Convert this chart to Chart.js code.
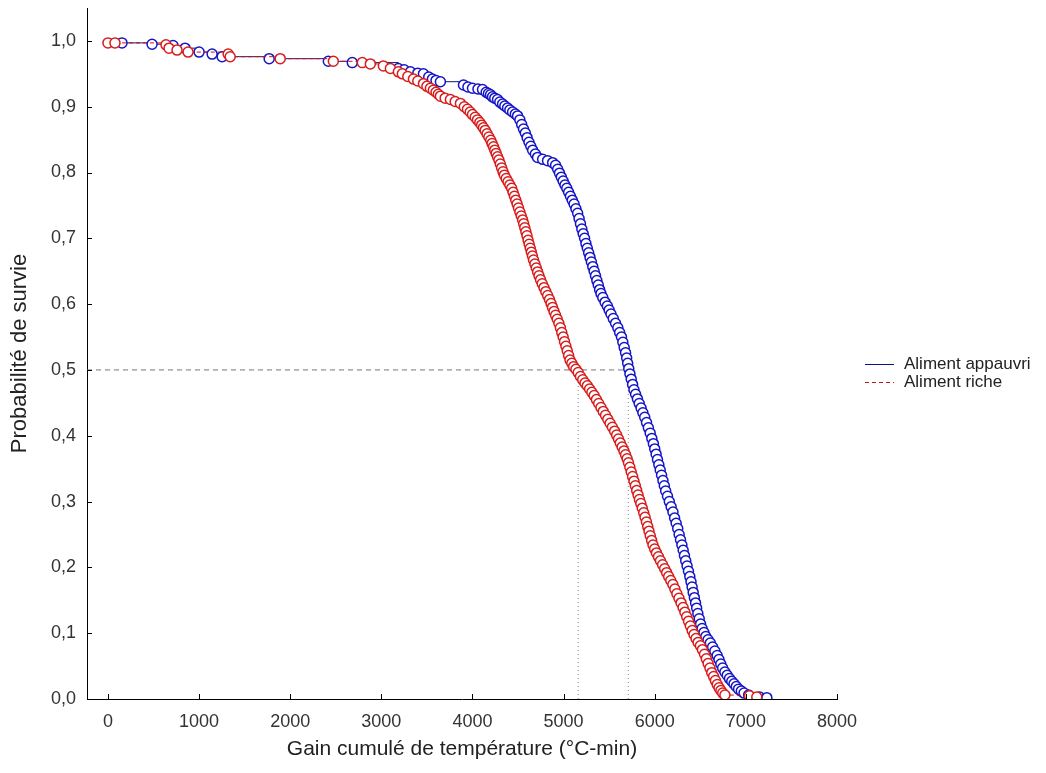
<!DOCTYPE html>
<html>
<head>
<meta charset="utf-8">
<script src="https://cdn.jsdelivr.net/npm/chart.js@4"></script>
<style>
  body { margin: 0; background: #fff; }
</style>
</head>
<body>
<canvas id="canvas" width="1046" height="773"></canvas>
<script>
// DATA
var seriesNames = ['Aliment appauvri', 'Aliment riche'];

// Aliment appauvri (bleu)
var tempAppauvri = [154, 484, 714, 846, 1000, 1143, 1253, 1769, 2418, 2681,
  3187, 3250, 3319, 3400, 3462, 3520, 3560, 3600, 3648, 3901,
  3950, 4000, 4060, 4110, 4150, 4175, 4198, 4220, 4245, 4275,
  4300, 4330, 4355, 4385, 4410, 4440, 4470, 4495, 4520, 4540,
  4560, 4580, 4600, 4620, 4640, 4660, 4690, 4714, 4770, 4824,
  4880, 4912, 4935, 4955, 4975, 4995, 5015, 5035, 5055, 5075,
  5095, 5115, 5135, 5154, 5170, 5185, 5200, 5215, 5230, 5245,
  5260, 5275, 5290, 5305, 5320, 5335, 5350, 5365, 5380, 5395,
  5410, 5430, 5455, 5480, 5500, 5520, 5545, 5570, 5595, 5615,
  5635, 5650, 5665, 5680, 5692, 5703, 5715, 5728, 5742, 5757,
  5772, 5790, 5810, 5830, 5850, 5870, 5890, 5910, 5930, 5950,
  5968, 5985, 6000, 6015, 6030, 6045, 6060, 6075, 6090, 6105,
  6120, 6140, 6160, 6180, 6200, 6218, 6235, 6252, 6268, 6283,
  6298, 6312, 6326, 6340, 6355, 6370, 6385, 6398, 6410, 6422,
  6435, 6448, 6460, 6473, 6488, 6503, 6520, 6540, 6560, 6585,
  6610, 6635, 6660, 6685, 6705, 6725, 6745, 6770, 6795, 6820,
  6845, 6870, 6895, 6920, 6950, 6980, 7030, 7150, 7230];
var survAppauvri = [0.997, 0.995, 0.993, 0.989, 0.983, 0.980, 0.976, 0.973, 0.969, 0.967,
  0.958, 0.956, 0.953, 0.951, 0.950, 0.945, 0.942, 0.940, 0.938, 0.933,
  0.930, 0.928, 0.927, 0.926, 0.922, 0.920, 0.918, 0.915, 0.913, 0.911,
  0.907, 0.904, 0.901, 0.898, 0.895, 0.892, 0.889, 0.886, 0.880, 0.873,
  0.866, 0.860, 0.853, 0.846, 0.840, 0.834, 0.828, 0.823, 0.820, 0.818,
  0.815, 0.811, 0.805, 0.799, 0.793, 0.787, 0.781, 0.776, 0.770, 0.764,
  0.758, 0.752, 0.745, 0.738, 0.730, 0.722, 0.714, 0.707, 0.700, 0.692,
  0.685, 0.678, 0.671, 0.664, 0.657, 0.650, 0.643, 0.636, 0.629, 0.622,
  0.616, 0.610, 0.603, 0.597, 0.591, 0.585, 0.578, 0.571, 0.564, 0.557,
  0.550, 0.542, 0.534, 0.526, 0.518, 0.510, 0.502, 0.494, 0.486, 0.478,
  0.470, 0.463, 0.456, 0.449, 0.442, 0.435, 0.428, 0.420, 0.412, 0.404,
  0.396, 0.388, 0.380, 0.372, 0.364, 0.356, 0.348, 0.340, 0.332, 0.324,
  0.316, 0.308, 0.300, 0.292, 0.284, 0.275, 0.267, 0.259, 0.250, 0.242,
  0.234, 0.226, 0.218, 0.210, 0.202, 0.194, 0.186, 0.178, 0.170, 0.162,
  0.154, 0.146, 0.138, 0.130, 0.122, 0.114, 0.107, 0.101, 0.095, 0.090,
  0.085, 0.079, 0.073, 0.066, 0.060, 0.053, 0.047, 0.041, 0.036, 0.031,
  0.027, 0.023, 0.019, 0.015, 0.012, 0.009, 0.006, 0.003, 0.002];

// Aliment riche (rouge)
var tempRiche = [0, 77, 637, 670, 758, 879, 1319, 1341, 1890, 2473,
  2791, 2879, 3022, 3099, 3187, 3230, 3290, 3352, 3400, 3462,
  3500, 3538, 3570, 3600, 3625, 3648, 3700, 3758, 3810, 3868,
  3910, 3945, 3975, 4000, 4030, 4055, 4080, 4100, 4120, 4140,
  4160, 4180, 4200, 4215, 4231, 4245, 4260, 4275, 4290, 4305,
  4320, 4335, 4350, 4370, 4390, 4410, 4430, 4445, 4460, 4475,
  4490, 4505, 4520, 4535, 4550, 4562, 4574, 4586, 4598, 4610,
  4622, 4634, 4646, 4658, 4670, 4685, 4700, 4715, 4730, 4747,
  4765, 4785, 4805, 4825, 4845, 4862, 4878, 4895, 4912, 4930,
  4948, 4965, 4980, 4995, 5010, 5025, 5040, 5055, 5070, 5090,
  5110, 5135, 5160, 5185, 5210, 5235, 5260, 5285, 5310, 5335,
  5360, 5385, 5410, 5435, 5460, 5485, 5510, 5535, 5560, 5582,
  5602, 5622, 5642, 5662, 5680, 5697, 5712, 5727, 5742, 5757,
  5772, 5787, 5802, 5817, 5832, 5847, 5863, 5879, 5894, 5909,
  5923, 5937, 5951, 5966, 5981, 5999, 6019, 6041, 6063, 6086,
  6109, 6131, 6153, 6176, 6199, 6221, 6243, 6266, 6289, 6311,
  6331, 6351, 6371, 6391, 6411, 6431, 6453, 6476, 6501, 6523,
  6546, 6566, 6586, 6606, 6626, 6646, 6666, 6686, 6706, 6726,
  6746, 6770, 7040, 7120];
var survRiche = [0.997, 0.997, 0.994, 0.989, 0.986, 0.983, 0.980, 0.976, 0.973, 0.969,
  0.967, 0.965, 0.962, 0.958, 0.953, 0.950, 0.946, 0.942, 0.939, 0.935,
  0.931, 0.928, 0.925, 0.922, 0.919, 0.916, 0.913, 0.911, 0.908, 0.905,
  0.900, 0.896, 0.892, 0.888, 0.884, 0.880, 0.876, 0.872, 0.868, 0.864,
  0.859, 0.854, 0.849, 0.844, 0.839, 0.834, 0.829, 0.824, 0.819, 0.813,
  0.807, 0.801, 0.796, 0.791, 0.786, 0.781, 0.776, 0.770, 0.764, 0.758,
  0.752, 0.746, 0.740, 0.734, 0.728, 0.722, 0.716, 0.710, 0.704, 0.697,
  0.691, 0.685, 0.679, 0.673, 0.667, 0.661, 0.655, 0.649, 0.643, 0.637,
  0.631, 0.625, 0.619, 0.613, 0.607, 0.601, 0.595, 0.589, 0.583, 0.577,
  0.571, 0.564, 0.557, 0.550, 0.543, 0.536, 0.529, 0.522, 0.515, 0.510,
  0.505, 0.501, 0.496, 0.490, 0.485, 0.480, 0.476, 0.471, 0.466, 0.461,
  0.455, 0.449, 0.443, 0.437, 0.431, 0.425, 0.419, 0.413, 0.407, 0.401,
  0.395, 0.389, 0.383, 0.377, 0.371, 0.365, 0.359, 0.352, 0.345, 0.338,
  0.331, 0.324, 0.317, 0.310, 0.303, 0.297, 0.290, 0.283, 0.276, 0.269,
  0.262, 0.255, 0.248, 0.241, 0.234, 0.228, 0.222, 0.216, 0.210, 0.204,
  0.198, 0.192, 0.186, 0.180, 0.174, 0.167, 0.160, 0.153, 0.146, 0.139,
  0.132, 0.125, 0.118, 0.111, 0.104, 0.098, 0.092, 0.086, 0.081, 0.075,
  0.068, 0.061, 0.054, 0.047, 0.040, 0.034, 0.028, 0.022, 0.017, 0.013,
  0.009, 0.006, 0.005, 0.003];

// medianes (survie = 0,5)
var medianRiche = 5160;
var medianAppauvri = 5710;
var survMediane = 0.5;

var xTickValues = [0, 1000, 2000, 3000, 4000, 5000, 6000, 7000, 8000];
var yTickValues = [0, 0.1, 0.2, 0.3, 0.4, 0.5, 0.6, 0.7, 0.8, 0.9, 1.0];
var xMin = -230, xMax = 8000;
var yMin = 0, yMax = 1.05;

function toPoints(xs, ys) {
  var pts = [];
  for (var i = 0; i < xs.length; i++) pts.push({x: xs[i], y: ys[i]});
  return pts;
}

var blue = '#1414c8', blueLine = '#10107a';
var red = '#d81c1c', redLine = '#c81010';
var fontFamily = '"Liberation Sans", Arial, sans-serif';

function noPad(s) {
  s.paddingTop = 0; s.paddingBottom = 0; s.paddingLeft = 0; s.paddingRight = 0;
}

// inward ticks + legend
var extras = {
  id: 'extras',
  afterDraw: function(chart) {
    var ctx = chart.ctx;
    var xs = chart.scales.x, ys = chart.scales.y;
    var area = chart.chartArea;
    ctx.save();
    ctx.strokeStyle = '#000';
    ctx.lineWidth = 1;
    xs.ticks.forEach(function(t) {
      var px = Math.round(xs.getPixelForValue(t.value)) + 0.5;
      ctx.beginPath();
      ctx.moveTo(px, area.bottom);
      ctx.lineTo(px, area.bottom - 5);
      ctx.stroke();
    });
    ys.ticks.forEach(function(t) {
      var py = Math.round(ys.getPixelForValue(t.value)) + 0.5;
      ctx.beginPath();
      ctx.moveTo(area.left, py);
      ctx.lineTo(area.left + 5, py);
      ctx.stroke();
    });
    // legend
    var rows = [
      {label: seriesNames[0], color: blueLine, dash: []},
      {label: seriesNames[1], color: redLine, dash: [4, 3]}
    ];
    ctx.font = '17px ' + fontFamily;
    ctx.textBaseline = 'middle';
    rows.forEach(function(r, i) {
      var y = 364 + i * 18;
      ctx.strokeStyle = r.color;
      ctx.setLineDash(r.dash);
      ctx.beginPath();
      ctx.moveTo(865, y + 0.5);
      ctx.lineTo(894, y + 0.5);
      ctx.stroke();
      ctx.setLineDash([]);
      ctx.fillStyle = '#222';
      ctx.fillText(r.label, 904, y);
    });
    ctx.restore();
  }
};

var ctx = document.getElementById('canvas').getContext('2d');
var chart = new Chart(ctx, {
  type: 'line',
  data: {
    datasets: [
      {
        label: seriesNames[1],
        data: toPoints(tempRiche, survRiche),
        stepped: true,
        borderColor: redLine,
        borderWidth: 1,
        borderDash: [4, 3],
        pointRadius: 5,
        pointBorderWidth: 1.5,
        pointBorderColor: red,
        pointBackgroundColor: '#fff',
        order: 0
      },
      {
        label: seriesNames[0],
        data: toPoints(tempAppauvri, survAppauvri),
        stepped: true,
        borderColor: blueLine,
        borderWidth: 1,
        pointRadius: 5,
        pointBorderWidth: 1.5,
        pointBorderColor: blue,
        pointBackgroundColor: '#fff',
        order: 1
      },
      {
        data: [{x: xMin, y: survMediane}, {x: medianAppauvri, y: survMediane}],
        borderColor: '#777',
        borderWidth: 1,
        borderDash: [5, 4],
        pointRadius: 0,
        order: 2
      },
      {
        data: [{x: medianRiche, y: 0}, {x: medianRiche, y: survMediane}],
        borderColor: '#888',
        borderWidth: 1,
        borderDash: [1, 3],
        pointRadius: 0,
        order: 2
      },
      {
        data: [{x: medianAppauvri, y: 0}, {x: medianAppauvri, y: survMediane}],
        borderColor: '#888',
        borderWidth: 1,
        borderDash: [1, 3],
        pointRadius: 0,
        order: 2
      }
    ]
  },
  options: {
    responsive: false,
    animation: false,
    devicePixelRatio: 1,
    layout: { padding: { top: 8, right: 209, left: 0, bottom: 0 } },
    plugins: { legend: { display: false }, tooltip: { enabled: false } },
    scales: {
      x: {
        type: 'linear',
        min: xMin, max: xMax,
        afterBuildTicks: function(s) {
          s.ticks = xTickValues.map(function(v) { return {value: v}; });
        },
        ticks: {
          color: '#333',
          padding: 12,
          maxRotation: 0,
          autoSkip: false,
          font: { family: fontFamily, size: 18 },
          callback: function(v) { return String(v); }
        },
        grid: { drawOnChartArea: false, drawTicks: false },
        border: { color: '#000', width: 1 },
        title: {
          display: true,
          text: 'Gain cumulé de température (°C-min)',
          color: '#222',
          font: { family: fontFamily, size: 21 },
          padding: { top: 0, bottom: 11 }
        },
        afterFit: function(s) { s.height = 74; noPad(s); }
      },
      y: {
        type: 'linear',
        min: yMin, max: yMax,
        afterBuildTicks: function(s) {
          s.ticks = yTickValues.map(function(v) { return {value: v}; });
        },
        ticks: {
          color: '#333',
          padding: 11,
          font: { family: fontFamily, size: 18 },
          callback: function(v) { return v.toFixed(1).replace('.', ','); }
        },
        grid: { drawOnChartArea: false, drawTicks: false },
        border: { color: '#000', width: 1 },
        title: {
          display: true,
          text: 'Probabilité de survie',
          color: '#222',
          font: { family: fontFamily, size: 22 },
          padding: { top: 7, bottom: 0 }
        },
        afterFit: function(s) { s.width = 87; noPad(s); }
      }
    }
  },
  plugins: [extras]
});
</script>
</body>
</html>
